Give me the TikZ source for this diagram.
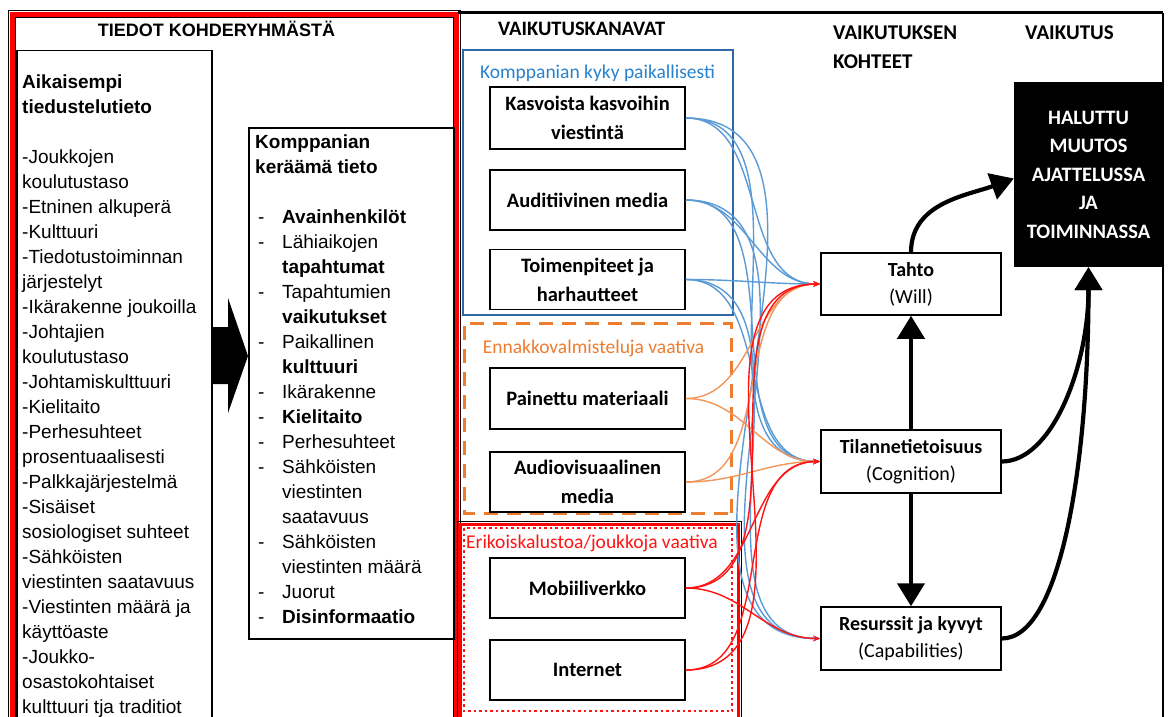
\documentclass[tikz,border=0pt]{standalone}
\usepackage{fontspec}
\setmainfont{Liberation Sans}
\newfontfamily\calfont{Carlito}
\usetikzlibrary{arrows.meta}
\definecolor{cblue}{RGB}{91,155,213}
\definecolor{bluebox}{RGB}{46,105,165}
\definecolor{bluetxt}{RGB}{40,130,205}
\definecolor{corange}{RGB}{237,125,49}
\definecolor{lorange}{RGB}{240,150,90}
\definecolor{cred}{RGB}{255,20,20}
\newcommand\fl{\rule{0pt}{15pt}}
\newcommand\bdash{\makebox[27pt][l]{\hspace{3pt}-}}
\newcommand\bind{\hspace*{27pt}}
\begin{document}
\begin{tikzpicture}[x=1pt,y=-1pt,
  chan/.style={draw,line width=1.5pt,minimum width=195pt,inner sep=0pt,align=center,font=\calfont\bfseries\fontsize{20.5}{29}\selectfont},
  tgt/.style={draw,line width=1.5pt,minimum width=180pt,inner sep=0pt,align=center,font=\calfont\fontsize{20}{27}\selectfont},
  conn/.style={line width=1.4pt,-{Stealth[length=7pt,width=5.5pt]}},
  big/.style={line width=4.2pt,-{Triangle[length=23pt,width=27pt]}},
  hdr/.style={font=\calfont\bfseries\fontsize{21}{29}\selectfont,anchor=base west,inner sep=0pt},
  lbl/.style={anchor=base,inner sep=0pt,font=\calfont\fontsize{19.5}{22}\selectfont},
]
\useasboundingbox (0,0) rectangle (1172,717);
\fill[white] (0,0) rectangle (1172,717);
\clip (0,0) rectangle (1172,717);

% ---------- left panel ----------
\draw[line width=1pt] (8,10.5) rectangle (460.5,730);
\draw[red,line width=5pt] (12,14.5) rectangle (456.5,730);
\draw[line width=0.8pt] (15,17.5) rectangle (453.5,730);
\node[anchor=base,inner sep=0pt,font=\bfseries\fontsize{18}{20}\selectfont] (htied) at (216.5,36.3) {TIEDOT KOHDERYHMÄSTÄ};

\node[draw,line width=1.5pt,minimum width=195pt,minimum height=690pt,anchor=north west,inner sep=0pt] (prev) at (16,50) {};
\node[anchor=north west,inner sep=0pt,align=left,font=\fontsize{19}{25}\selectfont] (prevtxt) at (22,73) {%
\textbf{\fl Aikaisempi}\\
\textbf{tiedustelutieto}\\[25pt]
-Joukkojen\\
koulutustaso\\
-Etninen alkuperä\\
-Kulttuuri\\
-Tiedotustoiminnan\\
järjestelyt\\
-Ikärakenne joukoilla\\
-Johtajien\\
koulutustaso\\
-Johtamiskulttuuri\\
-Kielitaito\\
-Perhesuhteet\\
prosentuaalisesti\\
-Palkkajärjestelmä\\
-Sisäiset\\
sosiologiset suhteet\\
-Sähköisten\\
viestinten saatavuus\\
-Viestinten määrä ja\\
käyttöaste\\
-Joukko-\\
osastokohtaiset\\
kulttuuri tja traditiot};

\fill (211,327) -- (228,327) -- (228,298) -- (248,356) -- (228,413) -- (228,384) -- (211,384) -- cycle;

\node[draw,line width=1.5pt,minimum width=205pt,minimum height=511pt,anchor=north west,inner sep=0pt,fill=white] (coll) at (248,127) {};
\node[anchor=north west,inner sep=0pt,align=left,font=\fontsize{19}{25}\selectfont] (colltxt) at (255,133) {%
\textbf{\fl Komppanian}\\
\textbf{keräämä tieto}\\[25pt]
\bdash\textbf{Avainhenkilöt}\\
\bdash Lähiaikojen\\
\bind\textbf{tapahtumat}\\
\bdash Tapahtumien\\
\bind\textbf{vaikutukset}\\
\bdash Paikallinen\\
\bind\textbf{kulttuuri}\\
\bdash Ikärakenne\\
\bdash\textbf{Kielitaito}\\
\bdash Perhesuhteet\\
\bdash Sähköisten\\
\bind viestinten\\
\bind saatavuus\\
\bdash Sähköisten\\
\bind viestinten määrä\\
\bdash Juorut\\
\bdash\textbf{Disinformaatio}};

% ---------- frame ----------
\draw[line width=3pt] (458,13) -- (1163,13);
\draw[line width=2.5pt] (1163,13) -- (1163,730);

% ---------- headers ----------
\node[hdr,font=\calfont\bfseries\fontsize{20.5}{29}\selectfont] (hkan) at (498,35.6) {VAIKUTUSKANAVAT};
\node[hdr] (hkoh1) at (833,39.5) {VAIKUTUKSEN};
\node[hdr] (hkoh2) at (833,68.5) {KOHTEET};
\node[hdr] (hvaik) at (1025,39.5) {VAIKUTUS};

% ---------- channel groups ----------
\node[draw=bluebox,line width=2.5pt,minimum width=270pt,minimum height=265pt,inner sep=0pt] (gblue) at (598,182.5) {};
\node[lbl,text=bluetxt] (lblue) at (597.5,78) {Komppanian kyky paikallisesti};

\draw[corange,line width=3pt,dash pattern=on 14pt off 9pt] (731,513) -- (731,323) -- (464,323) -- (464,513) -- cycle;
\node[lbl,text=corange] (lor) at (593.5,353.5) {Ennakkovalmisteluja vaativa};

\draw[line width=1.5pt] (457.5,521.5) rectangle (741.5,730);
\draw[red,line width=3.5pt] (460.5,524.5) rectangle (738.5,730);
\draw[cred,line width=2.5pt,dash pattern=on 2.5pt off 3pt] (464,528) rectangle (732,711);
\node[lbl,text=cred] (lred) at (592,548.5) {Erikoiskalustoa/joukkoja vaativa};

\node[chan,minimum height=62pt] (kasvo) at (587.5,118) {Kasvoista kasvoihin\\viestintä};
\node[chan,minimum height=60pt] (audit) at (587.5,200) {Auditiivinen media};
\node[chan,minimum height=60pt] (toimen) at (587.5,279.5) {Toimenpiteet ja\\harhautteet};
\node[chan,minimum height=61pt] (paine) at (587.5,398.5) {Painettu materiaali};
\node[chan,minimum height=60pt] (avmed) at (587.5,482) {Audiovisuaalinen\\media};
\node[chan,minimum height=60pt] (mobi) at (587.5,588) {Mobiiliverkko};
\node[chan,minimum height=60pt] (inet) at (587.5,670) {Internet};

% ---------- targets ----------
\node[tgt,minimum height=62pt] (tahto) at (911,284) {\textbf{Tahto}\\(Will)};
\node[tgt,minimum height=63pt] (tila) at (911,461.5) {\textbf{Tilannetietoisuus}\\(Cognition)};
\node[tgt,minimum height=63pt] (resu) at (911,638.5) {\textbf{Resurssit ja kyvyt}\\(Capabilities)};

\node[fill=black,text=white,minimum width=149pt,minimum height=185pt,inner sep=0pt,align=center,font=\calfont\bfseries\fontsize{20.5}{28.5}\selectfont] (halu) at (1088.5,174.5) {HALUTTU\\MUUTOS\\AJATTELUSSA\\JA\\TOIMINNASSA};

% ---------- coloured connectors ----------
\foreach \s in {kasvo,audit,toimen}
  \foreach \t in {tahto,tila,resu}
    \draw[conn,cblue] (\s.east) to[out=0,in=180] (\t.west);
\foreach \s in {paine,avmed}
  \foreach \t in {tahto,tila}
    \draw[conn,lorange] (\s.east) to[out=0,in=180] (\t.west);
\foreach \t in {tahto,tila,resu}
  \draw[conn,cred] (mobi.east) to[out=0,in=180] (\t.west);
\foreach \t in {tahto,tila}
  \draw[conn,cred] (inet.east) to[out=0,in=180] (\t.west);

% ---------- black arrows ----------
\draw[big] (tahto.north) to[out=90,in=200] ([yshift=-4pt]halu.west);
\draw[big] (tila.north) -- (tahto.south);
\draw[big] (tila.south) -- (resu.north);
\draw[big] (tila.east) to[out=0,in=-90,out looseness=0.6,in looseness=1.2] (halu.south);
\draw[big] (resu.east) to[out=0,in=-90,out looseness=0.4,in looseness=1.3] (halu.south);
\end{tikzpicture}
\end{document}
